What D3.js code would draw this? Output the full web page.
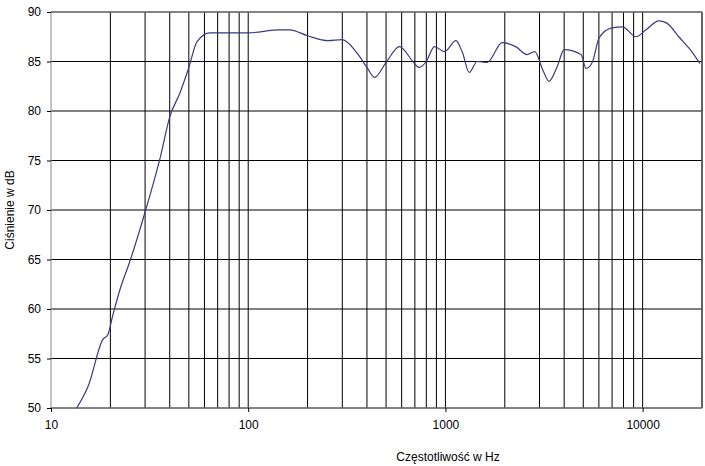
<!DOCTYPE html><html><head><meta charset="utf-8"><script src="https://cdn.jsdelivr.net/npm/d3@7"></script>
<style>body{margin:0;background:#fff}text{font-family:Arial,"Liberation Sans",sans-serif;font-size:12px;fill:#000}</style></head><body><svg width="705" height="466"></svg><script>
const freqs=[13.5,15.5,18.3,19.4,20.6,22.4,25.1,30,36,40,45,50,55,63.8,100,144,162,200,254,300,355,400,437,500,585,684,737,800,880,990,1130,1220,1320,1450,1630,1940,2270,2590,2840,3110,3350,3690,4000,4870,5160,5550,6020,7000,7900,9270,10400,12100,13200,15400,17900,19500];
const spl=[50,52.3,56.9,57.4,59.4,62,64.8,69.8,75.5,79.4,81.8,84.4,87.0,87.9,87.9,88.2,88.2,87.6,87.1,87.2,85.9,84.4,83.4,84.9,86.5,85,84.4,85,86.5,86,87.1,85.9,83.9,85,84.9,86.9,86.5,85.7,86,84.2,83,84.5,86.2,85.7,84.3,84.9,87.4,88.4,88.5,87.5,88.2,89.1,88.9,87.4,85.9,84.8];
const yTicks=[50,55,60,65,70,75,80,85,90];
const xTicks=[10,100,1000,10000];
const svg=d3.select("svg");
const x=d3.scaleLog().domain([10,20000]).range([51,702]);
const y=d3.scaleLinear().domain([50,90]).range([408,12]);
const grid=[];for(let d=10;d<=10000;d*=10)for(let k=1;k<=9;k++){const v=d*k;if(v<=20000&&v>10)grid.push(v);}grid.push(20000);
svg.selectAll(".vg").data(grid).join("line").attr("x1",d=>x(d)).attr("x2",d=>x(d)).attr("y1",12).attr("y2",408).attr("stroke","#000").attr("stroke-width",1);
svg.selectAll(".hg").data(yTicks).join("line").attr("x1",51).attr("x2",702).attr("y1",d=>y(d)).attr("y2",d=>y(d)).attr("stroke","#000");
svg.append("rect").attr("x",51).attr("y",12).attr("width",651).attr("height",396).attr("fill","none").attr("stroke","#888");
svg.append("g").attr("transform","translate(51,0)").call(d3.axisLeft(y).tickValues(yTicks).tickSize(4).tickPadding(6)).call(g=>{g.select(".domain").remove();g.selectAll("text").style("font-size","12px");});
svg.append("g").attr("transform","translate(0,408)").call(d3.axisBottom(x).tickValues(xTicks).tickFormat(d3.format("d")).tickSize(4).tickPadding(8)).call(g=>{g.select(".domain").remove();g.selectAll("text").style("font-size","12px");});
svg.append("path").datum(freqs.map((f,i)=>[f,spl[i]])).attr("fill","none").attr("stroke","#3a3a85").attr("stroke-width",1.2)
.attr("d",d3.line().x(d=>x(d[0])).y(d=>y(d[1])).curve(d3.curveMonotoneX));
svg.append("text").attr("x",448).attr("y",461).attr("text-anchor","middle").text("Częstotliwość w Hz");
svg.append("text").attr("transform","translate(14,210) rotate(-90)").attr("text-anchor","middle").text("Ciśnienie w dB");
</script></body></html>
